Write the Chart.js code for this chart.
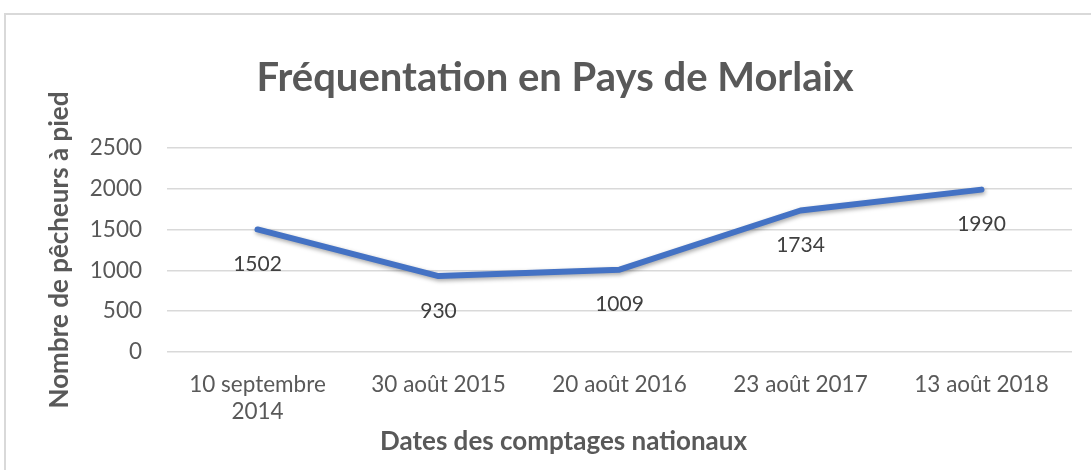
<!DOCTYPE html>
<html>
<head>
<meta charset="utf-8">
<script src="https://cdn.jsdelivr.net/npm/chart.js@4"></script>
<style>
  body { margin: 0; background: #fff; }
  #frame { position: absolute; left: 4px; top: 13px; width: 1100px; height: 470px; border: 2px solid #d9d9d9; }
  #wrap { position: absolute; left: 0; top: 0; width: 1091px; height: 470px; }
</style>
</head>
<body>
<div id="frame"></div>
<div id="wrap"><canvas id="lineChart"></canvas></div>
<script>
// chart data
const categories = [['10 septembre', '2014'], '30 août 2015', '20 août 2016', '23 août 2017', '13 août 2018'];
const pecheurs = [1502, 930, 1009, 1734, 1990];
const yTicks = [0, 500, 1000, 1500, 2000, 2500];
const xTitle = 'Dates des comptages nationaux';

const fontFamily = 'Lato, "Open Sans", sans-serif';

// draw value under each point
const valueLabels = {
  id: 'valueLabels',
  afterDatasetsDraw(chart) {
    const ctx = chart.ctx;
    const meta = chart.getDatasetMeta(0);
    ctx.save();
    ctx.font = '21px ' + fontFamily;
    ctx.fillStyle = '#404040';
    ctx.textAlign = 'center';
    ctx.textBaseline = 'middle';
    meta.data.forEach((pt, i) => {
      ctx.fillText(pecheurs[i], pt.x, pt.y + 35);
    });
    ctx.restore();
  }
};

// x axis title, centred on the whole chart like the original (not on the plot area)
const xAxisTitle = {
  id: 'xAxisTitle',
  afterDraw(chart) {
    const ctx = chart.ctx;
    ctx.save();
    ctx.font = 'bold 26px ' + fontFamily;
    ctx.fillStyle = '#595959';
    ctx.textAlign = 'center';
    ctx.textBaseline = 'middle';
    ctx.fillText(xTitle, chart.width / 2 + 18, chart.scales.x.bottom - 18);
    ctx.restore();
  }
};

// soft shadow under the line
const lineShadow = {
  id: 'lineShadow',
  beforeDatasetDraw(chart) {
    const ctx = chart.ctx;
    ctx.save();
    ctx.shadowColor = 'rgba(0,0,0,0.35)';
    ctx.shadowBlur = 4;
    ctx.shadowOffsetX = 1;
    ctx.shadowOffsetY = 2;
  },
  afterDatasetDraw(chart) {
    chart.ctx.restore();
  }
};

new Chart(document.getElementById('lineChart'), {
  type: 'line',
  data: {
    labels: categories,
    datasets: [{
      label: 'Fréquentation',
      data: pecheurs,
      borderColor: '#4472c4',
      borderWidth: 6,
      borderCapStyle: 'round',
      borderJoinStyle: 'round',
      pointRadius: 0,
      tension: 0
    }]
  },
  options: {
    responsive: true,
    maintainAspectRatio: false,
    animation: false,
    layout: { padding: { left: 38, right: 19, top: 0, bottom: 10 } },
    plugins: {
      legend: { display: false },
      tooltip: { enabled: false },
      title: {
        display: true,
        text: 'Fréquentation en Pays de Morlaix',
        color: '#595959',
        font: { family: fontFamily, size: 40, weight: 'bold' },
        padding: { top: 54, bottom: 46 }
      }
    },
    scales: {
      x: {
        offset: true,
        grid: { display: false },
        border: { display: false },
        ticks: {
          color: '#595959',
          font: { family: fontFamily, size: 22.5 },
          padding: 11,
          maxRotation: 0
        },
        afterFit(scale) { scale.height = 108; }
      },
      y: {
        min: 0,
        max: 2500,
        afterBuildTicks(scale) { scale.ticks = yTicks.map(v => ({ value: v })); },
        grid: { color: '#d9d9d9', lineWidth: 1.5, drawTicks: false },
        border: { display: false },
        ticks: {
          color: '#595959',
          font: { family: fontFamily, size: 22.5 },
          padding: 25,
          callback: v => String(v)
        },
        title: {
          display: true,
          text: 'Nombre de pêcheurs à pied',
          color: '#595959',
          font: { family: fontFamily, size: 26, weight: 'bold' },
          padding: { top: 6, bottom: 4 }
        },
        afterFit(scale) { scale.width = 129; }
      }
    }
  },
  plugins: [lineShadow, valueLabels, xAxisTitle]
});
</script>
</body>
</html>
